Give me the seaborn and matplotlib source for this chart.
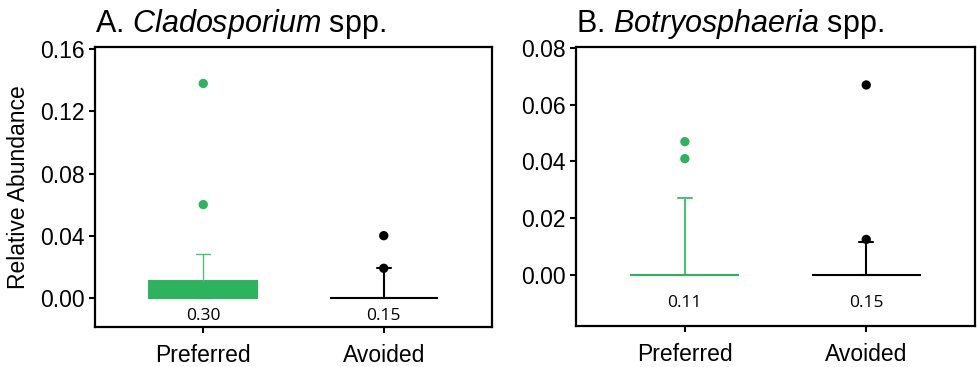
import matplotlib
matplotlib.use("Agg")
import matplotlib.pyplot as plt
import seaborn as sns
import pandas as pd

sns.set_style("ticks")
plt.rcParams["font.family"] = ["Liberation Sans", "DejaVu Sans"]
plt.rcParams["mathtext.fontset"] = "custom"
plt.rcParams["mathtext.rm"] = "Liberation Sans"
plt.rcParams["mathtext.it"] = "Liberation Sans:italic"
for k in ["text.color", "axes.labelcolor", "xtick.color", "ytick.color", "axes.edgecolor"]:
    plt.rcParams[k] = "black"

GREEN = "#2bb35e"
BLACK = "#000000"

groups = ["Preferred", "Avoided"]

# A. Cladosporium spp.
clado_q1 = [0.0, 0.0]
clado_med = [0.0, 0.0]
clado_q3 = [0.011, 0.0]
clado_whishi = [0.028, 0.019]
clado_fliers = [[0.060, 0.138], [0.019, 0.040]]
clado_labels = ["0.30", "0.15"]

# B. Botryosphaeria spp.
botryo_q1 = [0.0, 0.0]
botryo_med = [0.0, 0.0]
botryo_q3 = [0.0, 0.0]
botryo_whishi = [0.0272, 0.0115]
botryo_fliers = [[0.041, 0.047], [0.0125, 0.067]]
botryo_labels = ["0.11", "0.15"]


def draw_panel(ax, q1, med, q3, whishi, fliers, labels, title, ylim, yticks, label_y, whisk_lw):
    colors = [GREEN, BLACK]
    for i in range(len(groups)):
        stats = [dict(med=med[i], q1=q1[i], q3=q3[i], whislo=q1[i], whishi=whishi[i], fliers=[])]
        c = colors[i]
        wc = c if i else "#4cc078"
        ax.bxp(stats, positions=[i], widths=0.6, capwidths=0.08, patch_artist=True,
               showfliers=False,
               boxprops=dict(facecolor=c, edgecolor=c, linewidth=1.4),
               medianprops=dict(color=c, linewidth=1.5),
               whiskerprops=dict(color=wc, linewidth=whisk_lw[i]),
               capprops=dict(color=wc, linewidth=whisk_lw[i]))
    df = pd.DataFrame({
        "x": [i for i in range(len(groups)) for _ in fliers[i]],
        "y": [v for f in fliers for v in f],
        "group": [groups[i] for i in range(len(groups)) for _ in fliers[i]],
    })
    sns.scatterplot(data=df, x="x", y="y", hue="group", palette=dict(zip(groups, colors)),
                    s=45, edgecolor="none", legend=False, ax=ax, zorder=5)
    for i, lab in enumerate(labels):
        ax.text(i, label_y, lab, ha="center", va="center", fontsize=12.5,
                family=["Open Sans", "DejaVu Sans"])
    ax.set_xlim(-0.6, 1.6)
    ax.set_ylim(*ylim)
    ax.set_yticks(yticks)
    ax.set_yticklabels([f"{t:.2f}" for t in yticks])
    ax.set_xticks(range(len(groups)))
    ax.set_xticklabels(groups)
    ax.set_xlabel("")
    ax.set_ylabel("")
    ax.tick_params(labelsize=16.5, length=4, width=1.5)
    ax.tick_params(axis="x", pad=8)
    for s in ax.spines.values():
        s.set_visible(True)
        s.set_linewidth(1.6)
        s.set_color("black")
    ax.set_title(title, loc="left", fontsize=22, pad=11)


fig = plt.figure(figsize=(9.78, 3.67), dpi=100)
axA = fig.add_axes([0.0971, 0.109, 0.406, 0.763])
axB = fig.add_axes([0.589, 0.112, 0.408, 0.760])

draw_panel(axA, clado_q1, clado_med, clado_q3, clado_whishi, clado_fliers, clado_labels,
           r"A. $\it{Cladosporium}$ spp.", (-0.0188, 0.1615),
           [0.0, 0.04, 0.08, 0.12, 0.16], -0.0118, [1.0, 1.5])
draw_panel(axB, botryo_q1, botryo_med, botryo_q3, botryo_whishi, botryo_fliers, botryo_labels,
           r"B. $\it{Botryosphaeria}$ spp.", (-0.018, 0.0804),
           [0.0, 0.02, 0.04, 0.06, 0.08], -0.0098, [1.5, 1.5])
axA.set_ylabel("Relative Abundance", fontsize=16.5, labelpad=7)

fig.savefig("out.png", dpi=100)
